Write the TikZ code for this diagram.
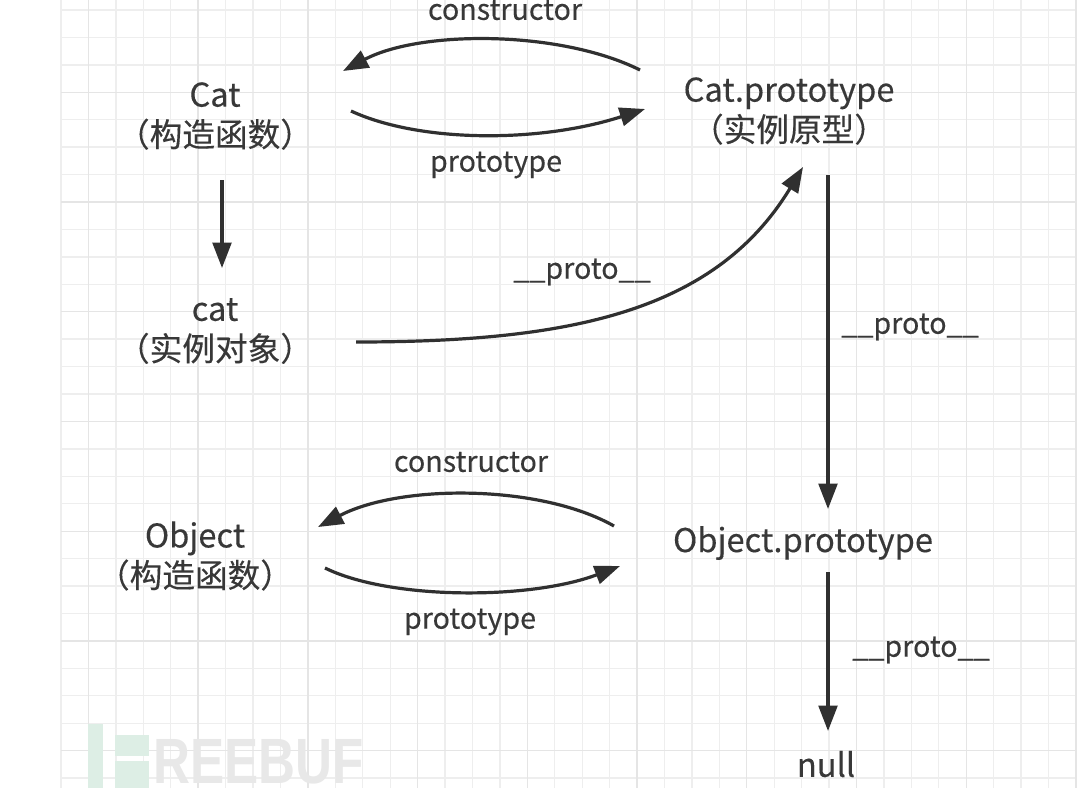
\documentclass[tikz,border=0pt]{standalone}
\usepackage{fontspec}
\setmainfont{Noto Sans CJK SC}[FakeBold=0.25]
\newfontfamily\wmfont{Liberation Sans}
\usetikzlibrary{arrows.meta}
\definecolor{ink}{HTML}{303030}
\definecolor{txt}{HTML}{383838}
\definecolor{gridminor}{HTML}{EEEEEE}
\definecolor{gridmajor}{HTML}{E5E5E5}
\definecolor{wmgreen}{HTML}{DDEEE5}
\definecolor{wmgray}{HTML}{E8E8E8}
\begin{document}
\begin{tikzpicture}[x=0.75pt,y=-0.75pt,
  mainlbl/.style={text=txt, font=\fontsize{24.5}{30}\selectfont, align=center, inner sep=0pt},
  edgelbl/.style={text=txt, font=\fontsize{21.5}{24}\selectfont, inner sep=0pt},
  link/.style={draw=ink, line width=2.4pt, -{Triangle[length=19pt,width=14pt]}}]
\useasboundingbox (0,0) rectangle (1080,788);
\fill[white] (0,0) rectangle (1080,788);
% grid
\foreach \i in {0,...,37} {\draw[gridminor, line width=1pt] ({61+\i*27.43},0) -- ({61+\i*27.43},788);}
\foreach \j in {0,...,28} {\draw[gridminor, line width=1pt] (61,{10+\j*27.43}) -- (1077,{10+\j*27.43});}
\foreach \i in {1,5,...,37} {\draw[gridmajor, line width=1pt] ({61+\i*27.43},0) -- ({61+\i*27.43},788);}
\foreach \j in {3,7,...,27} {\draw[gridmajor, line width=1pt] (61,{10+\j*27.43}) -- (1077,{10+\j*27.43});}
% watermark
\fill[wmgreen] (88,724) rectangle (103,788);
\fill[wmgreen] (115,735) rectangle (149,756);
\fill[wmgreen] (115,761) rectangle (149,788);
\node[wmgray, anchor=south west, inner sep=0pt, xscale=0.8, font=\wmfont\bfseries\fontsize{48}{48}\selectfont] (wm) at (153,784) {REEBUF};
% nodes
\node[mainlbl] (Cat) at (215,116) {Cat\\（构造函数）};
\node[mainlbl] (cat) at (215,331) {cat\\（实例对象）};
\node[mainlbl] (CatProto) at (789,111) {Cat.prototype\\（实例原型）};
\node[mainlbl] (Obj) at (195,556) {Object\\（构造函数）};
\node[mainlbl] (ObjProto) at (803,543) {Object.prototype};
\node[mainlbl] (null) at (826,764) {null};
% edge labels
\node[edgelbl] (l1) at (505,10) {constructor};
\node[edgelbl] (l2) at (496,165) {prototype};
\node[edgelbl] (l3) at (582,272) {\_\_proto\_\_};
\node[edgelbl] (l4) at (910,327) {\_\_proto\_\_};
\node[edgelbl] (l5) at (471,462) {constructor};
\node[edgelbl] (l6) at (470,622) {prototype};
\node[edgelbl] (l7) at (921,650) {\_\_proto\_\_};
% connector end points
\coordinate (CatE1) at (343,71);
\coordinate (CatE2) at (351,111);
\coordinate (CatS) at (222,180);
\coordinate (catN) at (222,268);
\coordinate (catE) at (356,342);
\coordinate (CPW1) at (640,70);
\coordinate (CPW2) at (645,109);
\coordinate (CPS) at (803,167);
\coordinate (CPD) at (828,175);
\coordinate (OPN) at (828,509);
\coordinate (OPW1) at (614,526);
\coordinate (OPW2) at (620,566);
\coordinate (OPS) at (828,572);
\coordinate (nullN) at (828,731);
\coordinate (ObjE1) at (318,527);
\coordinate (ObjE2) at (325,568);
% connectors
\draw[link] (CPW1) .. controls (560,30) and (420,30) .. (CatE1);
\draw[link] (CatE2) .. controls (420,143) and (540,143) .. (CPW2);
\draw[link] (CatS) -- (catN);
\draw[link] (catE) .. controls (570,342) and (715,312) .. (CPS);
\draw[link] (CPD) -- (OPN);
\draw[link] (OPW1) .. controls (540,484) and (400,484) .. (ObjE1);
\draw[link] (ObjE2) .. controls (390,600) and (530,600) .. (OPW2);
\draw[link] (OPS) -- (nullN);
\end{tikzpicture}
\end{document}
